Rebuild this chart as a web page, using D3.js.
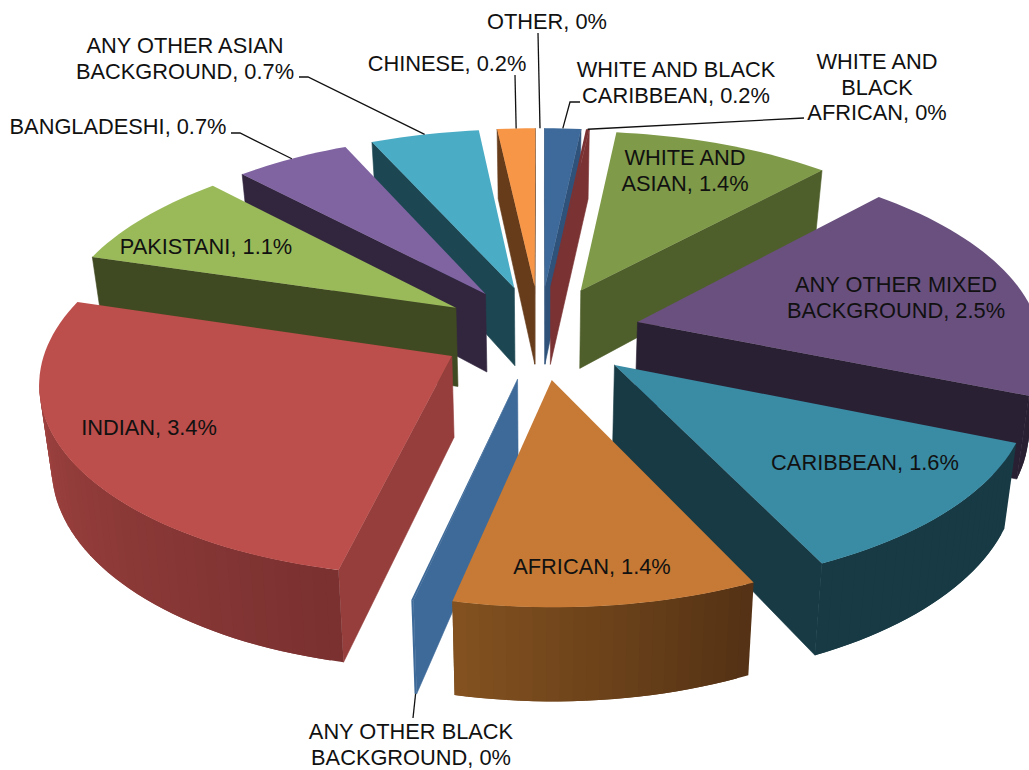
<!DOCTYPE html>
<html>
<head>
<meta charset="utf-8">
<script src="https://cdn.jsdelivr.net/npm/d3@7"></script>
<style>
body { margin: 0; background: #fff; }
text { font-family: "Liberation Sans", Arial, sans-serif; font-size: 21.8px; fill: #111; }
</style>
</head>
<body>
<svg id="chart" width="1029" height="770"></svg>
<script>
var categories = ["WHITE AND BLACK CARIBBEAN", "WHITE AND BLACK AFRICAN", "WHITE AND ASIAN", "ANY OTHER MIXED BACKGROUND",
    "CARIBBEAN", "AFRICAN", "ANY OTHER BLACK BACKGROUND", "INDIAN", "PAKISTANI", "BANGLADESHI",
    "ANY OTHER ASIAN BACKGROUND", "CHINESE", "OTHER"]
var percentLabels = ["0.2%", "0%", "1.4%", "2.5%", "1.6%", "1.4%", "0%", "3.4%", "1.1%", "0.7%", "0.7%", "0.2%", "0%"]
var sliceValues = [0.22, 0.02, 1.33, 2.56, 1.55, 1.39, 0.01, 3.46, 1.1, 0.7, 0.66, 0.23, 0]

var topColors = ["#3d6a9a", "#7b3233", "#7f9a48", "#69507f", "#3a8ba4", "#c67a35", "#3e6a99", "#bc4e4b", "#9aba59", "#8064a2", "#4bacc6", "#f79646", "#ffffff"]
var sideColors = ["#2f527b", "#7b3233", "#4f5f2b", "#2a2033", "#173a44", "#82511f", "#3e6a99", "#953e3c", "#404a22", "#32263f", "#1c4752", "#673c1b", "#ffffff"]
var rimFrom = ["#2f527b", "#7b3233", "#4f5f2b", "#2a2033", "#173a44", "#82511f", "#3e6a99", "#ab4845", "#404a22", "#32263f", "#1c4752", "#673c1b", "#ffffff"]
var rimTo = ["#2f527b", "#7b3233", "#4f5f2b", "#2a2033", "#173a44", "#553215", "#3e6a99", "#7a3130", "#404a22", "#32263f", "#1c4752", "#673c1b", "#ffffff"]

// label x, first baseline y, words per line, optional leader start
var labelSpots = [
    { x: 676, y: 77, words: [3, 2], leader: [[580, 102], [570, 102]] },
    { x: 877, y: 69, words: [2, 1, 2], leader: [[804, 118]] },
    { x: 685, y: 165, words: [2, 2] },
    { x: 896, y: 292, words: [3, 2] },
    { x: 865, y: 470, words: [2] },
    { x: 592, y: 574, words: [2] },
    { x: 411, y: 739, words: [3, 2], leader: [[413, 718]], rimEnd: true },
    { x: 149, y: 435, words: [2] },
    { x: 206, y: 254, words: [2] },
    { x: 118, y: 134, words: [2], leader: [[231, 133], [240, 133]] },
    { x: 185, y: 53, words: [3, 2], leader: [[299, 77], [308, 77]] },
    { x: 447, y: 71, words: [2], leader: [[515, 75]] },
    { x: 547, y: 29, words: [2], leader: [[538, 33]] }
]

var explode = 0.25
var tilt = 0.12     // perspective strength
var wallHeight = 80

var x = d3.scaleLinear().domain([-1, 1]).range([540 - 402, 540 + 402])
var y = d3.scaleLinear().domain([-1, 1]).range([332 + 187.5, 332 - 187.5])

function project(px, py, down) {
    var p = 1 / (1 + tilt * py)
    var sx = x(0) + (x(px) - x(0)) * p
    var sy = y(0) + (y(py) - y(0)) * p
    if (down) {
        sy += wallHeight * p
        sx = x(0) + (sx - x(0)) * 0.975
    }
    return [sx, sy]
}

var svg = d3.select("#chart")
var line = d3.line()

var pie = d3.pie().sort(null).value(function(d) { return d })
var slices = pie(sliceValues).map(function(d, i) {
    var mid = (d.startAngle + d.endAngle) / 2
    return {
        i: i,
        a0: d.startAngle,
        a1: d.endAngle,
        mid: mid,
        ox: Math.sin(mid) * explode,
        oy: Math.cos(mid) * explode
    }
})

function rimPoint(s, a, down) {
    return project(s.ox + Math.sin(a), s.oy + Math.cos(a), down)
}

function sideWall(g, s, a, apexTop, apexBot) {
    g.append("path").attr("fill", sideColors[s.i])
        .attr("stroke", sideColors[s.i]).attr("stroke-width", 0.6)
        .attr("d", line([apexTop, rimPoint(s, a, false), rimPoint(s, a, true), apexBot]) + "Z")
}

function drawSlice(s) {
    if (s.a1 <= s.a0) return
    var g = svg.append("g")
    var apexTop = project(s.ox, s.oy, false)
    var apexBot = project(s.ox, s.oy, true)

    // radial walls, only the ones turned to the viewer
    if (rimPoint(s, s.a0, false)[0] < apexTop[0]) sideWall(g, s, s.a0, apexTop, apexBot)
    if (rimPoint(s, s.a1, false)[0] > apexTop[0]) sideWall(g, s, s.a1, apexTop, apexBot)

    // outer wall in narrow bands, like the stepped shading of the original
    var steps = Math.max(1, Math.ceil((s.a1 - s.a0) / 0.03))
    var shade = d3.interpolateRgb(rimFrom[s.i], rimTo[s.i])
    d3.range(steps).forEach(function(k) {
        var a = s.a0 + (s.a1 - s.a0) * k / steps
        var b = s.a0 + (s.a1 - s.a0) * (k + 1) / steps
        var p0 = rimPoint(s, a, false), p1 = rimPoint(s, b, false)
        if (p1[0] >= p0[0]) return
        var t = steps > 1 ? k / (steps - 1) : 0
        // each band runs one step long and the next paints over it, so no seams show
        var c = Math.min(s.a1, b + (s.a1 - s.a0) / steps)
        g.append("path").attr("fill", shade(1 - t))
            .attr("d", line([p0, rimPoint(s, c, false), rimPoint(s, c, true), rimPoint(s, a, true)]) + "Z")
    })

    // top face
    var arcPts = d3.range(steps + 1).map(function(k) {
        return rimPoint(s, s.a0 + (s.a1 - s.a0) * k / steps, false)
    })
    g.append("path").attr("fill", topColors[s.i])
        .attr("d", line([apexTop].concat(arcPts)) + "Z")
}

// far slices first, near ones over them
slices.slice().sort(function(a, b) {
    return Math.cos(b.mid) - Math.cos(a.mid)
}).forEach(drawSlice)

// leaders
slices.forEach(function(s) {
    var spot = labelSpots[s.i]
    if (!spot.leader) return
    var end = rimPoint(s, s.mid, !!spot.rimEnd)
    svg.append("path").attr("fill", "none").attr("stroke", "#111").attr("stroke-width", 1.3)
        .attr("d", line(spot.leader.concat([end])))
})

// labels
categories.forEach(function(name, i) {
    var spot = labelSpots[i]
    var words = (name + ", " + percentLabels[i]).split(" ")
    var t = svg.append("text").attr("text-anchor", "middle")
    var from = 0
    spot.words.forEach(function(n, row) {
        t.append("tspan").attr("x", spot.x).attr("y", spot.y + row * 25.5)
            .text(words.slice(from, from + n).join(" "))
        from += n
    })
})
</script>
</body>
</html>
